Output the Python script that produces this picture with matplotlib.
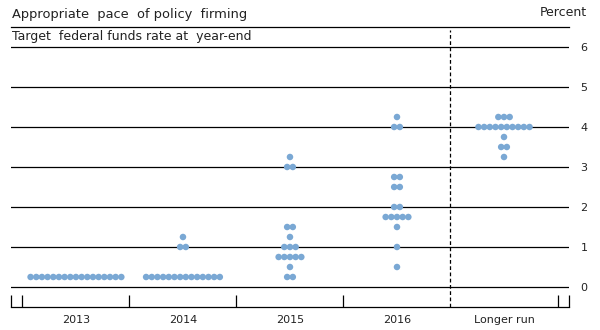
import matplotlib
matplotlib.use("Agg")
import matplotlib.pyplot as plt
import numpy as np

# categories along the x axis
categories = ['2013', '2014', '2015', '2016', 'Longer run']

# target rate levels (percent) and number of participants at each level
levels_2013 = [0.25]
counts_2013 = [17]
levels_2014 = [0.25, 1.0, 1.25]
counts_2014 = [14, 2, 1]
levels_2015 = [0.25, 0.5, 0.75, 1.0, 1.25, 1.5, 3.0, 3.25]
counts_2015 = [2, 1, 5, 3, 1, 2, 2, 1]
levels_2016 = [0.5, 1.0, 1.5, 1.75, 2.0, 2.5, 2.75, 4.0, 4.25]
counts_2016 = [1, 1, 1, 5, 2, 2, 2, 2, 1]
levels_lr = [3.25, 3.5, 3.75, 4.0, 4.25]
counts_lr = [1, 2, 1, 10, 3]

yticks = [0, 1, 2, 3, 4, 5, 6]

plt.rcParams['font.family'] = ['DejaVu Sans']

fig = plt.figure(figsize=(6, 3.3), dpi=100)
ax = fig.add_axes([0.0178, 0.0697, 0.931, 0.8485])

dot_color = '#7aa8d4'
spacing = 0.053

all_levels = [levels_2013, levels_2014, levels_2015, levels_2016, levels_lr]
all_counts = [counts_2013, counts_2014, counts_2015, counts_2016, counts_lr]

for i, (lv, ct) in enumerate(zip(all_levels, all_counts)):
    xs = []
    ys = []
    for v, n in zip(lv, ct):
        for k in range(n):
            xs.append(i + (k - (n - 1) / 2.0) * spacing)
            ys.append(v)
    ax.scatter(xs, ys, s=22, color=dot_color, edgecolors='none', zorder=3)

# horizontal rules
for y in yticks:
    ax.axhline(y, color='black', lw=0.9, zorder=1)

# dashed divider before longer run
ax.axvline(3.5, ymin=0, ymax=0.99, color='black', lw=0.9, ls=(0, (3, 2)), zorder=2)

ax.set_xlim(-0.61, 4.61)
ax.set_ylim(-0.5, 6.5)

for s in ['left', 'right']:
    ax.spines[s].set_visible(False)
for s in ['top', 'bottom']:
    ax.spines[s].set_linewidth(0.9)
    ax.spines[s].set_color('black')

ax.set_xticks(range(len(categories)))
ax.set_xticklabels(categories, fontsize=8, color='#222222')
ax.tick_params(axis='x', which='major', length=0, pad=6)
ax.set_xticks([-0.61, -0.5, 0.5, 1.5, 2.5, 4.5, 4.61], minor=True)
ax.tick_params(axis='x', which='minor', direction='in', length=9, width=0.9, color='black')

ax.yaxis.tick_right()
ax.set_yticks(yticks)
ax.set_yticklabels([str(t) for t in yticks], fontsize=8, color='#222222')
ax.tick_params(axis='y', length=0, pad=8)

fig.text(0.02, 0.957, 'Appropriate  pace  of policy  firming', fontsize=9.4,
         color='#222222', va='center', ha='left')
fig.text(0.02, 0.888, 'Target  federal funds rate at  year-end', fontsize=9,
         color='#222222', va='center', ha='left')
fig.text(0.978, 0.963, 'Percent', fontsize=9, color='#222222', va='center', ha='right')

fig.savefig('out.png', dpi=100)
